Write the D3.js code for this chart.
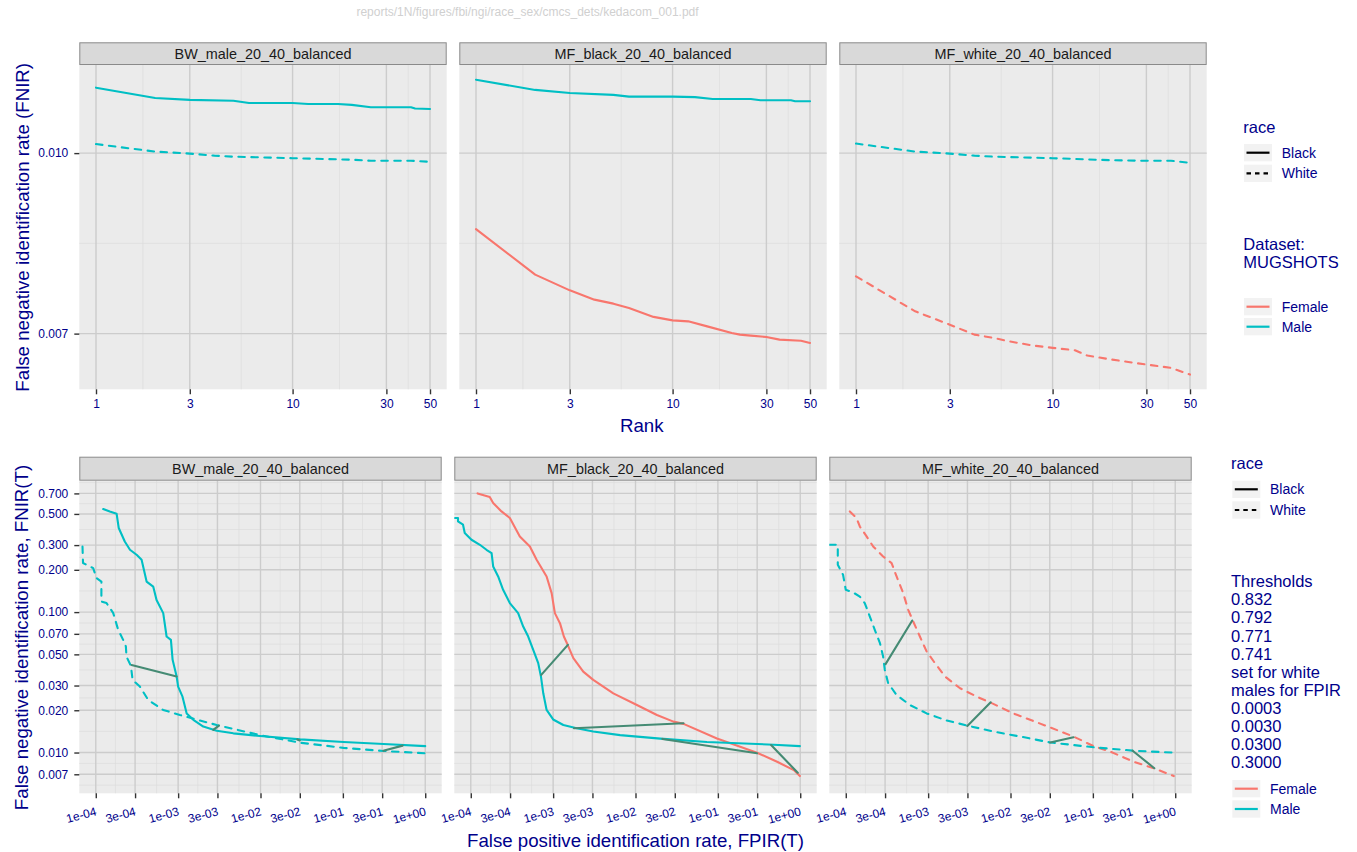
<!DOCTYPE html>
<html><head><meta charset="utf-8">
<script src="https://cdn.jsdelivr.net/npm/d3@7"></script>
<style>
body{margin:0;background:#fff}
svg{display:block}
text{font-family:"Liberation Sans",Arial,Helvetica,sans-serif}
</style>
</head><body>
<svg id="chart" width="1357" height="852"></svg>
<script>
// ================= DATA =================
const facetNames = ["BW_male_20_40_balanced", "MF_black_20_40_balanced", "MF_white_20_40_balanced"];

// ---- top row: FNIR by rank ----
const rankBreaks = [1, 3, 10, 30, 50];
const rankLabels = ["1", "3", "10", "30", "50"];
const rankFnirBreaks = [0.007, 0.010];
const rankFnirLabels = ["0.007", "0.010"];

const bwBlackMaleRank = [1, 2, 3, 5, 6, 10, 12, 17, 20, 25, 40, 42, 50];
const bwBlackMaleFnir = [0.01138, 0.01115, 0.01111, 0.01109, 0.01104, 0.01104, 0.01102, 0.01102, 0.01100, 0.01095, 0.01095, 0.01092, 0.01091];
const bwWhiteMaleRank = [1, 2, 3, 4, 5, 10, 20, 25, 40, 50];
const bwWhiteMaleFnir = [0.01018, 0.01003, 0.00999, 0.00995, 0.00993, 0.00990, 0.00987, 0.00985, 0.00985, 0.00983];

const mfbMaleRank = [1, 2, 3, 5, 6, 10, 13, 16, 25, 28, 40, 42, 50];
const mfbMaleFnir = [0.01156, 0.01133, 0.01126, 0.01122, 0.01118, 0.01118, 0.01117, 0.01113, 0.01113, 0.01110, 0.01110, 0.01108, 0.01108];
const mfbFemaleRank = [1, 2, 3, 4, 5, 6, 8, 10, 12, 15, 20, 22, 25, 30, 35, 45, 50];
const mfbFemaleFnir = [0.008606, 0.007865, 0.007625, 0.007486, 0.007427, 0.007364, 0.007235, 0.007186, 0.007172, 0.007101, 0.007009, 0.006986, 0.006972, 0.006954, 0.006917, 0.006903, 0.006872];

const mfwMaleRank = [1, 2, 3, 4, 5, 10, 20, 30, 40, 50];
const mfwMaleFnir = [0.01019, 0.01003, 0.00999, 0.00995, 0.00993, 0.00990, 0.00986, 0.00985, 0.00985, 0.00981];
const mfwFemaleRank = [1, 2, 3, 4, 5, 6, 8, 10, 13, 15, 20, 30, 40, 50];
const mfwFemaleFnir = [0.007839, 0.007315, 0.007125, 0.006986, 0.006941, 0.006894, 0.006836, 0.006806, 0.006773, 0.006703, 0.006650, 0.006585, 0.006542, 0.006456];

// ---- bottom row: FNIR(T) vs FPIR(T) ----
const fpirBreaks = [1e-4, 3e-4, 1e-3, 3e-3, 1e-2, 3e-2, 1e-1, 3e-1, 1];
const fpirLabels = ["1e-04", "3e-04", "1e-03", "3e-03", "1e-02", "3e-02", "1e-01", "3e-01", "1e+00"];
const fpirLimits = [1e-4, 1];
const detFnirBreaks = [0.007, 0.010, 0.020, 0.030, 0.050, 0.070, 0.100, 0.200, 0.300, 0.500, 0.700];
const detFnirLabels = ["0.007", "0.010", "0.020", "0.030", "0.050", "0.070", "0.100", "0.200", "0.300", "0.500", "0.700"];
const detFnirLimits = [0.00647, 0.683];

const detBwBlackFpir = [1.23e-4, 1.48e-4, 1.79e-4, 1.9e-4, 2.25e-4, 2.6e-4, 3.13e-4, 3.6e-4, 3.84e-4, 4.14e-4, 4.98e-4, 5.47e-4, 6.59e-4, 7.24e-4, 8.17e-4, 8.57e-4, 9.59e-4, 1.0e-3, 1.13e-3, 1.27e-3, 1.53e-3, 2.02e-3, 2.94e-3, 4.68e-3, 9.89e-3, 0.0303, 0.102, 0.313, 1.0];
const detBwBlackFnir = [0.542, 0.521, 0.502, 0.397, 0.318, 0.278, 0.256, 0.236, 0.2, 0.165, 0.152, 0.122, 0.0983, 0.067, 0.0634, 0.0457, 0.0348, 0.0295, 0.025, 0.019, 0.0171, 0.0153, 0.0143, 0.0137, 0.0131, 0.0124, 0.0119, 0.0115, 0.0111];
const detBwWhiteFpir = [6.9e-5, 7.0e-5, 9.3e-5, 1.02e-4, 1.17e-4, 1.17e-4, 1.35e-4, 1.63e-4, 1.87e-4, 2.15e-4, 2.32e-4, 2.36e-4, 2.67e-4, 2.8e-4, 3.43e-4, 4.33e-4, 6.59e-4, 1.05e-3, 1.84e-3, 2.94e-3, 9.9e-3, 0.0303, 0.102, 0.313, 1.0];
const detBwWhiteFnir = [0.293, 0.2235, 0.2058, 0.1746, 0.165, 0.119, 0.116, 0.0983, 0.0748, 0.0634, 0.0569, 0.0482, 0.0414, 0.0329, 0.0295, 0.0237, 0.0201, 0.0185, 0.0169, 0.0157, 0.0133, 0.01175, 0.0108, 0.01026, 0.00988];

const detMfbFemaleFpir = [1.21e-4, 1.70e-4, 1.87e-4, 2.36e-4, 2.98e-4, 3.94e-4, 5.22e-4, 6.3e-4, 8.33e-4, 9.59e-4, 1.05e-3, 1.21e-3, 1.35e-3, 1.5e-3, 1.76e-3, 2.32e-3, 3.07e-3, 5.38e-3, 0.0104, 0.0182, 0.0289, 0.0383, 0.0975, 0.299, 0.524, 0.836, 0.99];
const detMfbFemaleFnir = [0.70, 0.66, 0.598, 0.521, 0.4675, 0.3456, 0.2933, 0.2358, 0.1793, 0.1365, 0.0983, 0.0834, 0.067, 0.0585, 0.047, 0.0377, 0.0329, 0.0264, 0.0218, 0.0185, 0.0166, 0.0160, 0.0126, 0.00997, 0.0086, 0.0075, 0.0068];
const detMfbMaleFpir = [6.38e-5, 7.0e-5, 7.0e-5, 8.05e-5, 8.45e-5, 1.02e-4, 1.29e-4, 1.55e-4, 1.79e-4, 1.87e-4, 2.15e-4, 2.47e-4, 2.98e-4, 3.76e-4, 4.33e-4, 4.98e-4, 5.73e-4, 6.59e-4, 7.11e-4, 7.59e-4, 8.33e-4, 1.0e-3, 1.33e-3, 1.93e-3, 3.07e-3, 6.5e-3, 0.02, 0.0736, 0.299, 0.477, 0.99];
const detMfbMaleFnir = [0.4675, 0.4675, 0.442, 0.4188, 0.3655, 0.3275, 0.3015, 0.2778, 0.2632, 0.2113, 0.1793, 0.1441, 0.1159, 0.0983, 0.0789, 0.067, 0.0538, 0.0433, 0.0348, 0.0264, 0.0201, 0.0172, 0.0157, 0.0149, 0.0141, 0.0133, 0.01256, 0.0119, 0.0115, 0.01137, 0.0111];

const detMfwFemaleFpir = [1.12e-4, 1.35e-4, 1.48e-4, 1.79e-4, 2.15e-4, 2.84e-4, 3.6e-4, 4.14e-4, 4.98e-4, 5.73e-4, 6.59e-4, 7.94e-4, 9.59e-4, 1.21e-3, 1.6e-3, 2.44e-3, 3.89e-3, 6.19e-3, 0.0108, 0.0303, 0.0582, 0.102, 0.163, 0.313, 0.548, 0.96];
const detMfwFemaleFnir = [0.521, 0.4675, 0.407, 0.3456, 0.2933, 0.2489, 0.2234, 0.1793, 0.1365, 0.1038, 0.0857, 0.067, 0.0524, 0.0433, 0.0348, 0.0287, 0.025, 0.0222, 0.019, 0.0151, 0.013, 0.0111, 0.01015, 0.0086, 0.00773, 0.0068];
const detMfwMaleFpir = [6.3e-5, 8.0e-5, 8.0e-5, 9.27e-5, 1e-4, 1.23e-4, 1.48e-4, 1.70e-4, 1.96e-4, 2.25e-4, 2.6e-4, 2.84e-4, 2.98e-4, 3.27e-4, 4.14e-4, 6.01e-4, 9.59e-4, 1.68e-3, 3.08e-3, 6.19e-3, 0.0131, 0.0303, 0.102, 0.313, 0.96];
const detMfwMaleFnir = [0.3015, 0.3015, 0.2173, 0.1844, 0.144, 0.138, 0.129, 0.1159, 0.093, 0.0748, 0.0601, 0.0482, 0.0387, 0.0312, 0.0257, 0.0218, 0.019, 0.0169, 0.0155, 0.0141, 0.013, 0.0118, 0.0109, 0.0103, 0.00998];

// threshold connectors (point A -> point B at the same threshold)
const thresholdValues = ["0.832", "0.792", "0.771", "0.741"];
const thresholdFpirTargets = ["0.0003", "0.0030", "0.0300", "0.3000"];
const connBwFpirA = [2.72e-4, 2.67e-3, 0.028, 0.31];
const connBwFnirA = [0.0420, 0.01449, 0.0124, 0.0103];
const connBwFpirB = [9.6e-4, 3.13e-3, 0.030, 0.532];
const connBwFnirB = [0.0348, 0.01555, 0.0122, 0.0112];
const connMfbFpirA = [7.17e-4, 1.79e-3, 0.0212, 0.443];
const connMfbFnirA = [0.0357, 0.0149, 0.0125, 0.0113];
const connMfbFpirB = [1.51e-3, 0.0383, 0.299, 0.933];
const connMfbFnirB = [0.0584, 0.01617, 0.00988, 0.00718];
const connMfwFpirA = [3.04e-4, 2.99e-3, 0.0303, 0.304];
const connMfwFnirA = [0.0426, 0.01546, 0.0118, 0.0103];
const connMfwFpirB = [6.41e-4, 5.75e-3, 0.0582, 0.558];
const connMfwFnirB = [0.0871, 0.0228, 0.01285, 0.00773];

// ================= STYLE =================
const NAVY = "#00008B";
const SEX_COLOR = {Female: "#F8766D", Male: "#00BFC4"};
const CONN_COLOR = "#458B74";
const PANEL_BG = "#EBEBEB";
const GRID_MAJOR = "#CCCCCC";
const GRID_MINOR = "#DDDDDD";
const DASH = "6.5,6.5";
const LW = 2.1;

const svg = d3.select("#chart");

const topSeries = [
  {panel: 0, sex: "Male", race: "Black", x: bwBlackMaleRank, y: bwBlackMaleFnir},
  {panel: 0, sex: "Male", race: "White", x: bwWhiteMaleRank, y: bwWhiteMaleFnir},
  {panel: 1, sex: "Female", race: "Black", x: mfbFemaleRank, y: mfbFemaleFnir},
  {panel: 1, sex: "Male", race: "Black", x: mfbMaleRank, y: mfbMaleFnir},
  {panel: 2, sex: "Female", race: "White", x: mfwFemaleRank, y: mfwFemaleFnir},
  {panel: 2, sex: "Male", race: "White", x: mfwMaleRank, y: mfwMaleFnir}
];
const botSeries = [
  {panel: 0, sex: "Male", race: "Black", x: detBwBlackFpir, y: detBwBlackFnir},
  {panel: 0, sex: "Male", race: "White", x: detBwWhiteFpir, y: detBwWhiteFnir},
  {panel: 1, sex: "Female", race: "Black", x: detMfbFemaleFpir, y: detMfbFemaleFnir},
  {panel: 1, sex: "Male", race: "Black", x: detMfbMaleFpir, y: detMfbMaleFnir},
  {panel: 2, sex: "Female", race: "White", x: detMfwFemaleFpir, y: detMfwFemaleFnir},
  {panel: 2, sex: "Male", race: "White", x: detMfwMaleFpir, y: detMfwMaleFnir}
];
const botConn = [
  {panel: 0, xa: connBwFpirA, ya: connBwFnirA, xb: connBwFpirB, yb: connBwFnirB},
  {panel: 1, xa: connMfbFpirA, ya: connMfbFnirA, xb: connMfbFpirB, yb: connMfbFnirB},
  {panel: 2, xa: connMfwFpirA, ya: connMfwFnirA, xb: connMfwFpirB, yb: connMfwFnirB}
];

const L10 = Math.log10;
function expandLog(lo, hi) {
  const a = L10(lo), b = L10(hi), e = 0.05 * (b - a);
  return [Math.pow(10, a - e), Math.pow(10, b + e)];
}
// ggplot-style minor breaks (midpoints in transformed space)
function minorBreaks(majors, dom) {
  const lim = [L10(dom[0]), L10(dom[1])];
  let b = majors.map(L10).filter(v => v >= lim[0] && v <= lim[1]);
  const bd = b[1] - b[0];
  if (lim[0] < b[0]) b = [b[0] - bd].concat(b);
  if (lim[1] > b[b.length - 1]) b = b.concat([b[b.length - 1] + bd]);
  const out = [];
  for (let i = 0; i < b.length - 1; i++) out.push((b[i] + b[i + 1]) / 2);
  return out.filter(v => v > lim[0] && v < lim[1]).map(v => Math.pow(10, v));
}

function drawRow(cfg) {
  const {rowId, panelX, panelW, stripTop, stripH, panelTop, panelBottom,
         xDom, yDom, xBreaks, xLabels, yBreaks, yLabels, series, conns, rotateX} = cfg;
  const yScale = d3.scaleLog().domain(yDom).range([panelBottom, panelTop]);
  const xMinor = minorBreaks(xBreaks, xDom);
  const yMinor = minorBreaks(yBreaks, yDom);
  panelX.forEach((x0, pi) => {
    const xScale = d3.scaleLog().domain(xDom).range([x0, x0 + panelW]);
    const g = svg.append("g");
    const clipId = `clip-${rowId}-${pi}`;
    svg.append("clipPath").attr("id", clipId).append("rect")
      .attr("x", x0).attr("y", panelTop).attr("width", panelW).attr("height", panelBottom - panelTop);
    g.append("rect").attr("x", x0).attr("y", panelTop).attr("width", panelW)
      .attr("height", panelBottom - panelTop).attr("fill", PANEL_BG);
    // minor grid
    g.selectAll(null).data(yMinor).join("line")
      .attr("x1", x0).attr("x2", x0 + panelW).attr("y1", d => yScale(d)).attr("y2", d => yScale(d))
      .attr("stroke", GRID_MINOR).attr("stroke-width", 0.7);
    g.selectAll(null).data(xMinor).join("line")
      .attr("y1", panelTop).attr("y2", panelBottom).attr("x1", d => xScale(d)).attr("x2", d => xScale(d))
      .attr("stroke", GRID_MINOR).attr("stroke-width", 0.7);
    // major grid
    g.selectAll(null).data(yBreaks).join("line")
      .attr("x1", x0).attr("x2", x0 + panelW).attr("y1", d => yScale(d)).attr("y2", d => yScale(d))
      .attr("stroke", GRID_MAJOR).attr("stroke-width", 1.4);
    g.selectAll(null).data(xBreaks).join("line")
      .attr("y1", panelTop).attr("y2", panelBottom).attr("x1", d => xScale(d)).attr("x2", d => xScale(d))
      .attr("stroke", GRID_MAJOR).attr("stroke-width", 1.4);
    // strip
    g.append("rect").attr("x", x0 + 0.5).attr("y", stripTop + 0.5).attr("width", panelW - 1)
      .attr("height", stripH - 1).attr("fill", "#D9D9D9").attr("stroke", "#8A8A8A").attr("stroke-width", 1);
    g.append("text").attr("x", x0 + panelW / 2).attr("y", stripTop + stripH / 2 + 5)
      .attr("text-anchor", "middle").attr("font-size", 14.4).attr("fill", "#1A1A1A").text(facetNames[pi]);
    // data
    const line = d3.line().x(d => xScale(d[0])).y(d => yScale(d[1]));
    const dg = g.append("g").attr("clip-path", `url(#${clipId})`);
    series.filter(s => s.panel === pi).forEach(s => {
      dg.append("path").datum(s.x.map((v, i) => [v, s.y[i]])).attr("d", line)
        .attr("fill", "none").attr("stroke", SEX_COLOR[s.sex]).attr("stroke-width", LW)
        .attr("stroke-linecap", "round").attr("stroke-linejoin", "round")
        .attr("stroke-dasharray", s.race === "White" ? DASH : null);
    });
    (conns || []).filter(c => c.panel === pi).forEach(c => {
      dg.selectAll(null).data(c.xa.map((v, i) => i)).join("line")
        .attr("x1", i => xScale(c.xa[i])).attr("y1", i => yScale(c.ya[i]))
        .attr("x2", i => xScale(c.xb[i])).attr("y2", i => yScale(c.yb[i]))
        .attr("stroke", CONN_COLOR).attr("stroke-width", 2.1).attr("stroke-linecap", "round");
    });
    // x axis
    const ax = d3.axisBottom(xScale).tickValues(xBreaks).tickFormat((d, i) => xLabels[i])
      .tickSize(5).tickSizeOuter(0).tickPadding(5.5);
    const axg = svg.append("g").attr("transform", `translate(0,${panelBottom})`).call(ax);
    axg.select(".domain").remove();
    axg.selectAll(".tick line").attr("stroke", "#333333").attr("stroke-width", 1.4);
    axg.selectAll(".tick text").attr("fill", NAVY).attr("font-size", 12)
      .attr("font-family", '"Liberation Sans", Arial, Helvetica, sans-serif');
    if (rotateX) {
      axg.selectAll(".tick text").attr("y", 0).attr("dy", 0).attr("text-anchor", "end")
        .attr("transform", "translate(1,21.7) rotate(-15)");
    }
    // y axis only on the first panel
    if (pi === 0) {
      const ay = d3.axisLeft(yScale).tickValues(yBreaks).tickFormat((d, i) => yLabels[i])
        .tickSize(5).tickSizeOuter(0).tickPadding(6);
      const ayg = svg.append("g").attr("transform", `translate(${x0},0)`).call(ay);
      ayg.select(".domain").remove();
      ayg.selectAll(".tick line").attr("stroke", "#333333").attr("stroke-width", 1.4);
      ayg.selectAll(".tick text").attr("fill", NAVY).attr("font-size", 12)
        .attr("font-family", '"Liberation Sans", Arial, Helvetica, sans-serif');
    }
  });
}

// ---- top row ----
const allTopY = topSeries.flatMap(s => s.y);
drawRow({
  rowId: "top", panelX: [79.3, 459.3, 839.3], panelW: 367.4,
  stripTop: 42.3, stripH: 22.7, panelTop: 65, panelBottom: 389.3,
  xDom: expandLog(d3.min(rankBreaks), d3.max(rankBreaks)),
  yDom: expandLog(d3.min(allTopY), d3.max(allTopY)),
  xBreaks: rankBreaks, xLabels: rankLabels, yBreaks: rankFnirBreaks, yLabels: rankFnirLabels,
  series: topSeries, conns: null, rotateX: false
});
// ---- bottom row ----
drawRow({
  rowId: "bot", panelX: [79.3, 454.3, 829.3], panelW: 362.4,
  stripTop: 456.7, stripH: 24, panelTop: 480.7, panelBottom: 793.3,
  xDom: expandLog(fpirLimits[0], fpirLimits[1]),
  yDom: expandLog(detFnirLimits[0], detFnirLimits[1]),
  xBreaks: fpirBreaks, xLabels: fpirLabels, yBreaks: detFnirBreaks, yLabels: detFnirLabels,
  series: botSeries, conns: botConn, rotateX: true
});

// ---- titles ----
svg.append("text").attr("x", 527.5).attr("y", 16).attr("text-anchor", "middle")
  .attr("font-size", 12).attr("fill", "#D0D0D0")
  .text("reports/1N/figures/fbi/ngi/race_sex/cmcs_dets/kedacom_001.pdf");
svg.append("text").attr("x", 641.7).attr("y", 431.5).attr("text-anchor", "middle")
  .attr("font-size", 18.67).attr("fill", NAVY).text("Rank");
svg.append("text").attr("transform", "translate(28.6,227.3) rotate(-90)").attr("text-anchor", "middle")
  .attr("font-size", 18.67).attr("fill", NAVY).text("False negative identification rate (FNIR)");
svg.append("text").attr("x", 635.5).attr("y", 847).attr("text-anchor", "middle")
  .attr("font-size", 18.67).attr("fill", NAVY).text("False positive identification rate, FPIR(T)");
svg.append("text").attr("transform", "translate(28.4,637.5) rotate(-90)").attr("text-anchor", "middle")
  .attr("font-size", 18.67).attr("fill", NAVY).text("False negative identification rate, FNIR(T)");

// ---- legends ----
function legendKeys(x, centers, items, keyW) {
  items.forEach((it, i) => {
    const cy = centers[i];
    svg.append("rect").attr("x", x).attr("y", cy - 8.65).attr("width", keyW).attr("height", 17.3).attr("fill", "#F2F2F2");
    svg.append("line").attr("x1", x + 2.5).attr("x2", x + keyW - 2.5).attr("y1", cy).attr("y2", cy)
      .attr("stroke", it.color).attr("stroke-width", 2.2)
      .attr("stroke-dasharray", it.dash || null);
    svg.append("text").attr("x", x + keyW + 9.7).attr("y", cy + 5).attr("font-size", 14)
      .attr("fill", NAVY).text(it.label);
  });
}
function legendTitle(x, baselines, lines) {
  lines.forEach((t, i) => svg.append("text").attr("x", x).attr("y", baselines[i])
    .attr("font-size", 16.5).attr("fill", NAVY).text(t));
}
const raceItems = [{label: "Black", color: "#000"}, {label: "White", color: "#000", dash: "4.5,4"}];
const sexItems = [{label: "Female", color: SEX_COLOR.Female}, {label: "Male", color: SEX_COLOR.Male}];

// top legend
legendTitle(1243.3, [132.5], ["race"]);
legendKeys(1244, [152.7, 173.3], raceItems, 28);
legendTitle(1243.3, [250, 268.3], ["Dataset:", "MUGSHOTS"]);
legendKeys(1244, [306.7, 326.7], sexItems, 28);

// bottom legend
legendTitle(1231, [469.3], ["race"]);
legendKeys(1232.3, [489.3, 510], raceItems, 28);
const threshLines = ["Thresholds"].concat(thresholdValues, ["set for white", "males for FPIR"], thresholdFpirTargets);
legendTitle(1231, threshLines.map((t, i) => 587.3 + i * 18.07), threshLines);
legendKeys(1232.3, [788.7, 809], sexItems, 28);
</script>
</body></html>
